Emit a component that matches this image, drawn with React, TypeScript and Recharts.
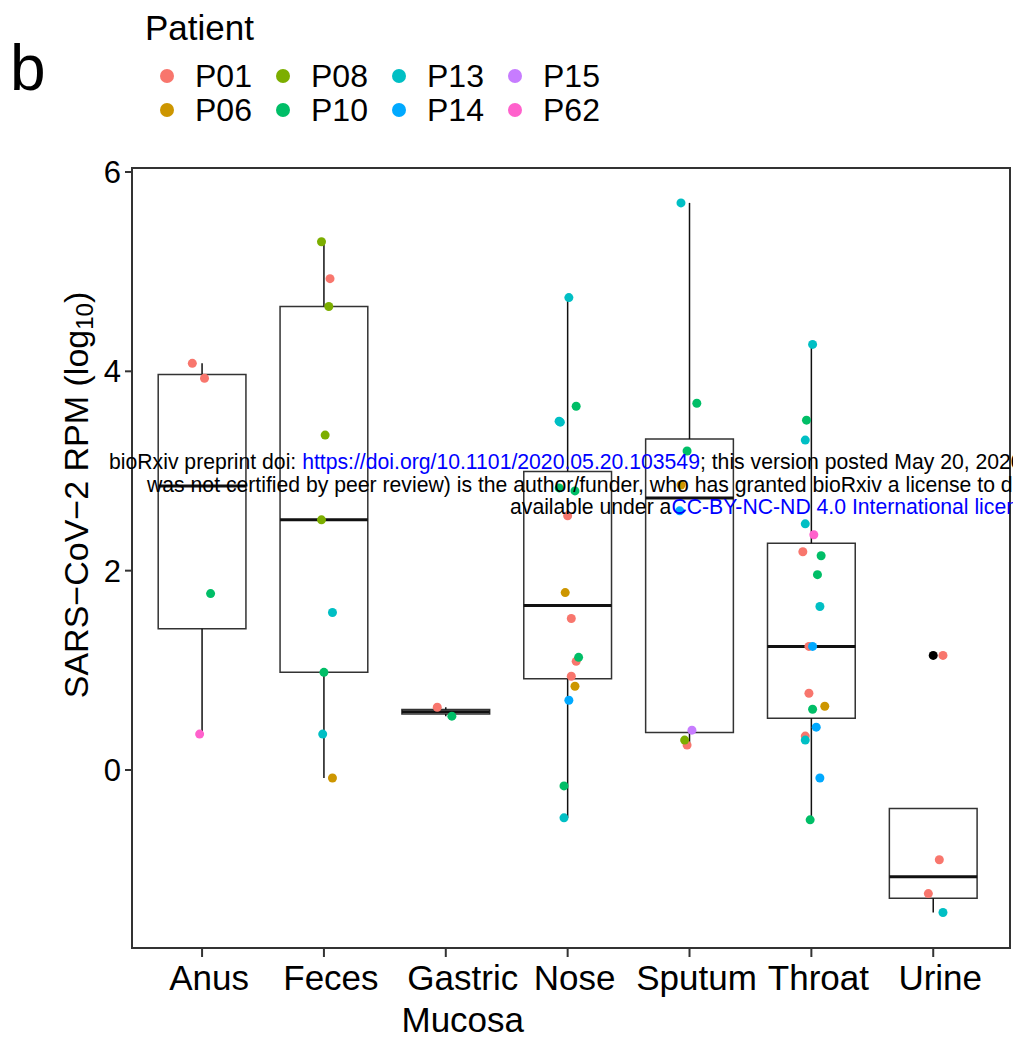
import { ComposedChart, Scatter, XAxis, YAxis, ReferenceArea, ReferenceLine } from 'recharts'

const sites = ['Anus', 'Feces', 'Gastric\nMucosa', 'Nose', 'Sputum', 'Throat', 'Urine']
const patients = ['P01', 'P06', 'P08', 'P10', 'P13', 'P14', 'P15', 'P62']
const patientColors = ['#F8766D', '#CD9600', '#7CAE00', '#00BE67', '#00BFC4', '#00A9FF', '#C77CFF', '#FF61CC']
const yTicks = [0, 2, 4, 6]

// per site: [patient, log10 RPM, jitter (category units)]
type Obs = [string, number, number]
const anus: Obs[] = [['P01', 4.08, -0.08], ['P01', 3.93, 0.02], ['P10', 1.77, 0.07], ['P62', 0.36, -0.02]]
const feces: Obs[] = [
  ['P08', 5.3, -0.02], ['P01', 4.93, 0.05], ['P08', 4.65, 0.04], ['P08', 3.36, 0.01], ['P08', 2.51, -0.02],
  ['P13', 1.58, 0.07], ['P10', 0.98, 0], ['P13', 0.36, -0.01], ['P06', -0.08, 0.07],
]
const gastric: Obs[] = [['P01', 0.63, -0.07], ['P10', 0.54, 0.05]]
const nose: Obs[] = [
  ['P13', 4.74, 0.01], ['P10', 3.65, 0.07], ['P13', 3.5, -0.07], ['P13', 3.49, -0.06], ['P10', 2.83, -0.07],
  ['P10', 2.8, 0.06], ['P01', 2.55, 0], ['P06', 1.78, -0.02], ['P01', 1.52, 0.03], ['P10', 1.13, 0.09],
  ['P01', 1.09, 0.07], ['P01', 0.94, 0.03], ['P06', 0.84, 0.06], ['P14', 0.7, 0.01], ['P10', -0.16, -0.03],
  ['P13', -0.48, -0.03],
]
const sputum: Obs[] = [
  ['P13', 5.69, -0.07], ['P10', 3.68, 0.06], ['P10', 3.2, -0.02], ['P06', 2.86, -0.07], ['P14', 2.6, -0.08],
  ['P15', 0.4, 0.02], ['P08', 0.3, -0.04], ['P01', 0.25, -0.02],
]
const throat: Obs[] = [
  ['P13', 4.27, 0.01], ['P10', 3.51, -0.04], ['P13', 3.31, -0.05], ['P13', 2.47, -0.05], ['P62', 2.36, 0.02],
  ['P01', 2.19, -0.07], ['P10', 2.15, 0.08], ['P10', 1.96, 0.05], ['P13', 1.64, 0.07], ['P01', 1.24, -0.02],
  ['P14', 1.24, 0.01], ['P01', 0.77, -0.02], ['P06', 0.64, 0.11], ['P10', 0.61, 0.01], ['P14', 0.43, 0.04],
  ['P01', 0.34, -0.05], ['P13', 0.3, -0.05], ['P14', -0.08, 0.07], ['P10', -0.5, -0.01],
]
const urine: Obs[] = [['P01', 1.15, 0.08], ['P01', -0.9, 0.05], ['P01', -1.24, -0.04], ['P13', -1.43, 0.08]]

const siteObs = [anus, feces, gastric, nose, sputum, throat, urine]

function quantile(sorted: number[], p: number) {
  const h = (sorted.length - 1) * p
  const lo = Math.floor(h)
  const hi = Math.ceil(h)
  return sorted[lo] + (h - lo) * (sorted[hi] - sorted[lo])
}

const boxes = siteObs.map((obs, i) => {
  const v = obs.map(o => o[1]).sort((a, b) => a - b)
  const q1 = quantile(v, 0.25)
  const med = quantile(v, 0.5)
  const q3 = quantile(v, 0.75)
  const iqr = q3 - q1
  const inside = v.filter(x => x >= q1 - 1.5 * iqr && x <= q3 + 1.5 * iqr)
  const outliers = v.filter(x => x < q1 - 1.5 * iqr || x > q3 + 1.5 * iqr)
  return { pos: i + 1, q1, med, q3, lo: Math.min(...inside), hi: Math.max(...inside), outliers }
})

const outlierPts = boxes.flatMap(b => b.outliers.map(y => ({ x: b.pos, y })))
const seriesByPatient = patients.map(p =>
  siteObs.flatMap((obs, i) => obs.filter(o => o[0] === p).map(o => ({ x: i + 1 + o[2], y: o[1] })))
)

const FONT = '"Liberation Sans", Arial, Helvetica, sans-serif'
const HALF = 0.36

function SiteTick(props: any) {
  const { x, y, payload } = props
  const lines = sites[payload.value - 1].split('\n')
  const cx = x + (lines.length > 1 ? 17 : 7)
  return (
    <text x={cx} y={y} textAnchor="middle" fontSize={35} fill="#000" fontFamily={FONT}>
      {lines.map((l, i) => (
        <tspan key={i} x={cx} dy={i === 0 ? 31 : 42}>{l}</tspan>
      ))}
    </text>
  )
}

const YLabel = () => (
  <text transform="translate(76,495) rotate(-90)" textAnchor="middle" dominantBaseline="central" fontSize={34} fill="#000" fontFamily={FONT}>
    SARS−CoV−2 RPM (log<tspan dy={8} fontSize={24}>10</tspan><tspan dy={-8}>)</tspan>
  </text>
)

export default function App() {
  return (
    <div style={{ position: 'absolute', left: 0, top: 0, width: 1013, height: 1043, overflow: 'hidden', background: '#fff', fontFamily: FONT }}>
      <div style={{ position: 'absolute', left: 10, top: 33, fontSize: 64, lineHeight: '70px' }}>b</div>
      <div style={{ position: 'absolute', left: 145, top: 8, fontSize: 35, lineHeight: '40px' }}>Patient</div>
      {patients.map((p, i) => {
        const col = Math.floor(i / 2)
        const row = i % 2
        return (
          <div key={p} style={{ position: 'absolute', left: 160 + col * 116, top: 58 + row * 34, height: 36, display: 'flex', alignItems: 'center' }}>
            <span style={{ width: 14, height: 14, borderRadius: 7, background: patientColors[i], display: 'inline-block' }} />
            <span style={{ marginLeft: 21, fontSize: 32 }}>{p}</span>
          </div>
        )
      })}
      <div style={{ position: 'absolute', left: 0, top: 0 }}>
        <ComposedChart width={1013} height={1043} margin={{ top: 168, right: 3, bottom: 0, left: 0 }}>
          <XAxis
            type="number"
            dataKey="x"
            domain={[0.425, 7.63]}
            ticks={[1, 2, 3, 4, 5, 6, 7]}
            interval={0}
            allowDataOverflow
            height={95}
            tickSize={9}
            tick={<SiteTick />}
            axisLine={{ stroke: '#333', strokeWidth: 2 }}
            tickLine={{ stroke: '#333', strokeWidth: 2 }}
          />
          <YAxis
            type="number"
            dataKey="y"
            domain={[-1.786, 6.04]}
            ticks={yTicks}
            interval={0}
            allowDataOverflow
            width={132}
            tickSize={7}
            tickMargin={4}
            tick={{ fontSize: 31, fill: '#000', fontFamily: FONT }}
            axisLine={{ stroke: '#333', strokeWidth: 2 }}
            tickLine={{ stroke: '#333', strokeWidth: 2 }}
            label={{ content: <YLabel /> }}
          />
          <ReferenceArea x1={0.425} x2={7.63} y1={-1.786} y2={6.04} fill="none" stroke="#333" strokeWidth={2} />
          {boxes.map(b => (
            <ReferenceArea key={`box${b.pos}`} x1={b.pos - HALF} x2={b.pos + HALF} y1={b.q1} y2={b.q3} fill="none" fillOpacity={0} stroke="#333" strokeWidth={1.5} />
          ))}
          {boxes.filter(b => b.hi > b.q3).map(b => (
            <ReferenceLine key={`wh${b.pos}`} segment={[{ x: b.pos, y: b.q3 }, { x: b.pos, y: b.hi }]} stroke="#111" strokeWidth={1.5} />
          ))}
          {boxes.filter(b => b.lo < b.q1).map(b => (
            <ReferenceLine key={`wl${b.pos}`} segment={[{ x: b.pos, y: b.q1 }, { x: b.pos, y: b.lo }]} stroke="#111" strokeWidth={1.5} />
          ))}
          {boxes.map(b => (
            <ReferenceLine key={`med${b.pos}`} segment={[{ x: b.pos - HALF, y: b.med }, { x: b.pos + HALF, y: b.med }]} stroke="#111" strokeWidth={3} />
          ))}
          <Scatter
            data={outlierPts}
            isAnimationActive={false}
            shape={(p: any) => <circle cx={p.cx} cy={p.cy} r={4.5} fill="#000" />}
          />
          {patients.map((p, i) => (
            <Scatter
              key={p}
              name={p}
              data={seriesByPatient[i]}
              isAnimationActive={false}
              shape={(s: any) => <circle cx={s.cx} cy={s.cy} r={4.5} fill={patientColors[i]} />}
            />
          ))}
        </ComposedChart>
      </div>
      <div style={{ position: 'absolute', left: 0, top: 451, width: 1013, fontSize: 21.2, lineHeight: '22px', whiteSpace: 'nowrap', pointerEvents: 'none' }}>
        <div style={{ paddingLeft: 109 }}>
          bioRxiv preprint doi: <span style={{ color: '#00f' }}>https://doi.org/10.1101/2020.05.20.103549</span>; this version posted May 20, 2020. The copyright holder for this preprint (which
        </div>
        <div style={{ paddingLeft: 147, marginTop: 1 }}>
          was not certified by peer review) is the author/funder, who has granted bioRxiv a license to display the preprint in perpetuity. It is made
        </div>
        <div style={{ paddingLeft: 510 }}>
          available under a<span style={{ color: '#00f' }}>CC-BY-NC-ND 4.0 International license</span>.
        </div>
      </div>
    </div>
  )
}
